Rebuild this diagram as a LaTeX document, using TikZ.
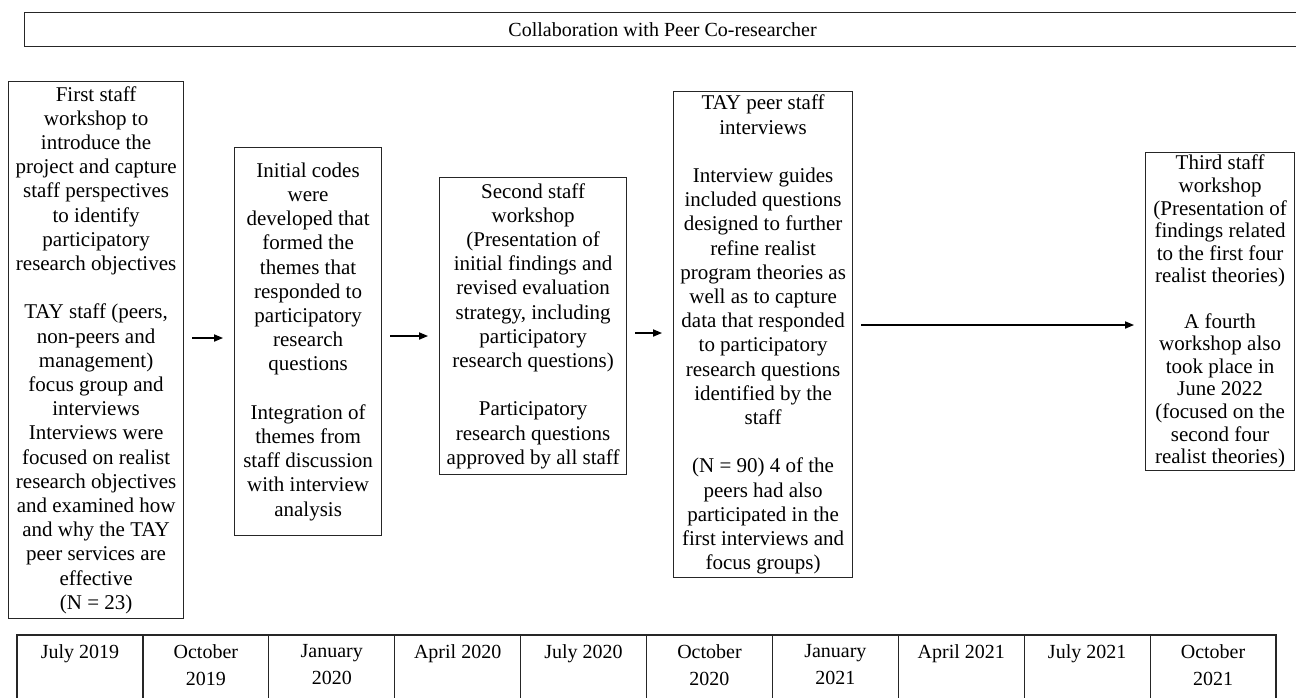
\documentclass[tikz,border=0pt]{standalone}
\usepackage{fontspec}
\setmainfont{Liberation Serif}
\usetikzlibrary{arrows.meta}

\begin{document}
\begin{tikzpicture}[x=0.5pt,y=-0.5pt,
        box/.style={draw=black!85,line width=0.6pt,anchor=north west,align=center,
            inner xsep=1pt,inner ysep=1pt,font=\fontsize{10.5}{12.1}\selectfont},
        arr/.style={line width=0.6pt,-{Triangle[length=4.5pt,width=3.6pt]},
            shorten <=4pt,shorten >=5.5pt},
        cell/.style={anchor=north,align=center,inner sep=0pt,
            font=\fontsize{10}{13.5}\selectfont}]
        \useasboundingbox (0,0) rectangle (1296,697);

        \node[box,minimum width=638pt,minimum height=17pt,font=\fontsize{10}{12}\selectfont] (top) at (24,12)
            {Collaboration with Peer Co-researcher};

        \node[box,minimum width=87.5pt,minimum height=268.5pt] (b1) at (8,81)
            {First staff\\workshop to\\introduce the\\project and capture\\staff perspectives\\to identify\\participatory\\research objectives\\[12.1pt]
             TAY staff (peers,\\non-peers and\\management)\\focus group and\\interviews\\Interviews were\\focused on realist\\research objectives\\and examined how\\and why the TAY\\peer services are\\effective\\(N = 23)};
        \node[box,minimum width=73.5pt,minimum height=194pt] (b2) at (234,147)
            {Initial codes\\were\\developed that\\formed the\\themes that\\responded to\\participatory\\research\\questions\\[12.1pt]
             Integration of\\themes from\\staff discussion\\with interview\\analysis};
        \node[box,minimum width=93.5pt,minimum height=148.5pt] (b3) at (439,177)
            {Second staff\\workshop\\(Presentation of\\initial findings and\\revised evaluation\\strategy, including\\participatory\\research questions)\\[12.1pt]
             Participatory\\research questions\\approved by all staff};
        \node[box,minimum width=89.5pt,minimum height=243pt] (b4) at (673,91)
            {TAY peer staff\\interviews\\[12.1pt]
             Interview guides\\included questions\\designed to further\\refine realist\\program theories as\\well as to capture\\data that responded\\to participatory\\research questions\\identified by the\\staff\\[12.1pt]
             (N = 90) 4 of the\\peers had also\\participated in the\\first interviews and\\focus groups)};
        \node[box,minimum width=74.5pt,minimum height=159pt,font=\fontsize{10.5}{11.3}\selectfont] (b5) at (1145,152)
            {Third staff\\workshop\\(Presentation of\\findings related\\to the first four\\realist theories)\\[11.3pt]
             A fourth\\workshop also\\took place in\\June 2022\\(focused on the\\second four\\realist theories)};

        \coordinate (y1) at (0,338);
        \coordinate (y2) at (0,336);
        \coordinate (y3) at (0,333);
        \coordinate (y4) at (0,325);

        \draw[arr] (b1.east |- y1) -- (b2.west |- y1);
        \draw[arr] (b2.east |- y2) -- (b3.west |- y2);
        \draw[arr] (b3.east |- y3) -- (b4.west |- y3);
        \draw[arr] (b4.east |- y4) -- (b5.west |- y4);

        \foreach \m [count=\i] in {July 2019,{October\\2019},{January\\2020},April 2020,July 2020,
                {October\\2020},{January\\2021},April 2021,July 2021,{October\\2021}} {
            \draw[black!85,line width=0.6pt] ({17+(\i-1)*125.9},635) rectangle ++(125.9,100);
            \node[cell] (m\i) at ({17+(\i-0.5)*125.9},644) {\m};
        }
    \end{tikzpicture}
\end{document}
